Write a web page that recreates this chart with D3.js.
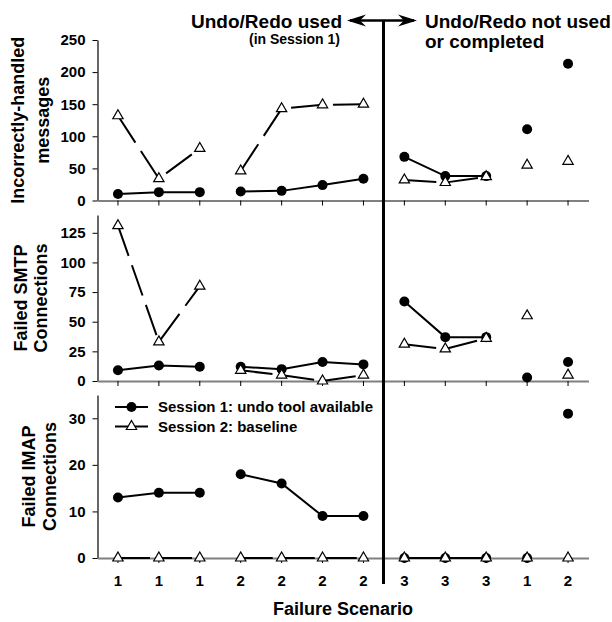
<!DOCTYPE html>
<html>
<head>
<meta charset="utf-8">
<script src="https://cdn.jsdelivr.net/npm/d3@7"></script>
<style>
  body { margin: 0; background: #fff; }
  svg { display: block; font-family: 'Liberation Sans', Arial, sans-serif; font-weight: bold; }
</style>
</head>
<body>
<svg width="612" height="622"></svg>
<script>
const categories = ['1', '1', '1', '2', '2', '2', '2', '3', '3', '3', '1', '2'];
// points in the same group are joined by a line
const groups = [0, 0, 0, 1, 1, 1, 1, 2, 2, 2, 3, 4];

const msgSession1 = [10, 13, 13, 14, 15, 24, 34, 68, 38, 38, 111, 213];
const msgSession2 = [132, 34, 81, 46, 143, 149, 150, 32, 28, 37, 55, 61];
const smtpSession1 = [9, 13, 12, 12, 10, 16, 14, 67, 37, 37, 3, 16];
const smtpSession2 = [131, 33, 80, 9, 5, 0, 5, 31, 27, 36, 55, 5];
const imapSession1 = [13, 14, 14, 18, 16, 9, 9, 0, 0, 0, 0, 31];
const imapSession2 = [0, 0, 0, 0, 0, 0, 0, 0, 0, 0, 0, 0];

const msgTicks = [0, 50, 100, 150, 200, 250];
const smtpTicks = [0, 25, 50, 75, 100, 125];
const imapTicks = [0, 10, 20, 30];

const legendLabels = ['Session 1: undo tool available', 'Session 2: baseline'];

const panels = [
	{ title: ['Incorrectly-handled', 'messages'], s1: msgSession1, s2: msgSession2,
		max: 250, ticks: msgTicks, top: 40, bottom: 200.5, titleX: [18, 43] },
	{ title: ['Failed SMTP', 'Connections'], s1: smtpSession1, s2: smtpSession2,
		max: 140, ticks: smtpTicks, top: 215, bottom: 381, titleX: [21, 41] },
	{ title: ['Failed IMAP', 'Connections'], s1: imapSession1, s2: imapSession2,
		max: 35, ticks: imapTicks, top: 395, bottom: 558, titleX: [29, 50] },
];

const left = 97.5;
const right = 588.5;
const dividerX = 383.5;
const axisGray = '#808080';

const svg = d3.select('svg');

const x = d3.scaleBand()
	.domain(d3.range(categories.length))
	.range([left, right]);
const cx = (i) => x(i) + x.bandwidth() / 2;

const triangle = d3.symbol().type(d3.symbolTriangle).size(46);

panels.forEach((p, pi) => {
	const y = d3.scaleLinear()
		.domain([0, p.max])
		.range([p.bottom, p.top]);

	const g = svg.append('g');

	// y axis
	const yAxis = g.append('g')
		.attr('transform', `translate(${left},0)`)
		.call(d3.axisLeft(y).tickValues(p.ticks).tickSize(5).tickSizeOuter(0).tickPadding(7));
	yAxis.select('.domain').attr('stroke', '#000').attr('stroke-width', 1.2);
	yAxis.selectAll('.tick line').attr('stroke', '#000');
	yAxis.selectAll('text')
		.attr('font-size', 15)
		.attr('font-family', 'Liberation Sans, Arial, sans-serif')
		.attr('font-weight', 'bold')
		.attr('fill', '#000');

	// x axis
	const isLast = pi === panels.length - 1;
	const xAxis = g.append('g')
		.attr('transform', `translate(0,${p.bottom})`)
		.call(d3.axisBottom(x)
			.tickSize(5)
			.tickSizeOuter(0)
			.tickPadding(12)
			.tickFormat((i) => isLast ? categories[i] : ''));
	xAxis.select('.domain').attr('stroke', axisGray).attr('stroke-width', 2);
	xAxis.selectAll('.tick line').attr('stroke', '#000');
	xAxis.selectAll('text')
		.attr('font-size', 15)
		.attr('font-family', 'Liberation Sans, Arial, sans-serif')
		.attr('font-weight', 'bold')
		.attr('fill', '#000');

	// y axis title, two lines
	const midY = (p.top + p.bottom) / 2;
	p.title.forEach((t, k) => {
		g.append('text')
			.attr('transform', `translate(${p.titleX[k]},${midY}) rotate(-90)`)
			.attr('text-anchor', 'middle')
			.attr('dy', '0.36em')
			.attr('font-size', 18)
			.text(t);
	});

	const line = d3.line()
		.x((d) => cx(d.i))
		.y((d) => y(d.v));

	const series = [
		{ values: p.s1, dash: null },
		{ values: p.s2, dash: '32,10' },
	];

	series.forEach((s, si) => {
		const pts = s.values.map((v, i) => ({ i, v, grp: groups[i] }));
		const byGroup = d3.groups(pts, (d) => d.grp);

		g.append('g')
			.selectAll('path')
			.data(byGroup.filter(([, arr]) => arr.length > 1))
			.join('path')
			.attr('d', ([, arr]) => line(arr))
			.attr('fill', 'none')
			.attr('stroke', '#000')
			.attr('stroke-width', 2)
			.attr('stroke-dasharray', s.dash);

		if (si === 0) {
			g.append('g')
				.selectAll('circle')
				.data(pts)
				.join('circle')
				.attr('cx', (d) => cx(d.i))
				.attr('cy', (d) => y(d.v))
				.attr('r', 5)
				.attr('fill', '#000');
		} else {
			g.append('g')
				.selectAll('path')
				.data(pts)
				.join('path')
				.attr('d', triangle)
				.attr('transform', (d) => `translate(${cx(d.i)},${y(d.v)})`)
				.attr('fill', '#fff')
				.attr('stroke', '#000')
				.attr('stroke-width', 1.2);
		}
	});

	// legend sits inside the bottom panel
	if (isLast) {
		const leg = g.append('g');
		legendLabels.forEach((label, k) => {
			const ly = 407 + k * 19.5;
			leg.append('line')
				.attr('x1', 115).attr('x2', 148)
				.attr('y1', ly).attr('y2', ly)
				.attr('stroke', '#000')
				.attr('stroke-width', 2);
			if (k === 0) {
				leg.append('circle')
					.attr('cx', 131.5).attr('cy', ly).attr('r', 5)
					.attr('fill', '#000');
			} else {
				leg.append('path')
					.attr('d', triangle)
					.attr('transform', `translate(131.5,${ly})`)
					.attr('fill', '#fff')
					.attr('stroke', '#000')
					.attr('stroke-width', 1.2);
			}
			leg.append('text')
				.attr('x', 158)
				.attr('y', ly)
				.attr('dy', '0.36em')
				.attr('font-size', 15)
				.text(label);
		});
	}
});

// x axis title
svg.append('text')
	.attr('x', (left + right) / 2)
	.attr('y', 615)
	.attr('text-anchor', 'middle')
	.attr('font-size', 18)
	.text('Failure Scenario');

// divider between "used" and "not used" scenarios
svg.append('line')
	.attr('x1', dividerX).attr('x2', dividerX)
	.attr('y1', 20).attr('y2', 584)
	.attr('stroke', '#000')
	.attr('stroke-width', 3);

// double-headed arrow at the top
const arrowY = 20.5;
svg.append('line')
	.attr('x1', 350).attr('x2', 414)
	.attr('y1', arrowY).attr('y2', arrowY)
	.attr('stroke', '#000')
	.attr('stroke-width', 2.5);
svg.append('path')
	.attr('d', `M347,${arrowY} L366,${arrowY - 6} L360,${arrowY} L366,${arrowY + 6} Z`)
	.attr('fill', '#000');
svg.append('path')
	.attr('d', `M417,${arrowY} L398,${arrowY - 6} L404,${arrowY} L398,${arrowY + 6} Z`)
	.attr('fill', '#000');

svg.append('text')
	.attr('x', 342).attr('y', 27.5)
	.attr('text-anchor', 'end')
	.attr('font-size', 19)
	.text('Undo/Redo used');
svg.append('text')
	.attr('x', 340).attr('y', 44)
	.attr('text-anchor', 'end')
	.attr('font-size', 14)
	.text('(in Session 1)');
svg.append('text')
	.attr('x', 425).attr('y', 27.5)
	.attr('font-size', 19)
	.text('Undo/Redo not used');
svg.append('text')
	.attr('x', 425).attr('y', 48)
	.attr('font-size', 19)
	.text('or completed');
</script>
</body>
</html>
